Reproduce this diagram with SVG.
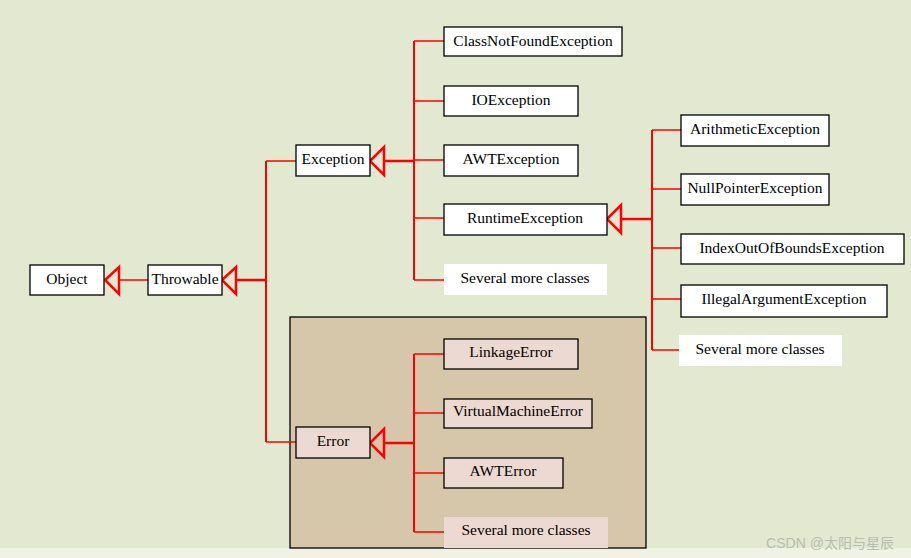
<svg xmlns="http://www.w3.org/2000/svg" width="911" height="558" viewBox="0 0 911 558">
<style>
.b{fill:#fff;stroke:#000;stroke-width:1.3}
.e{fill:#ecd9d1;stroke:#000;stroke-width:1.3}
.n{stroke:none}
text{font-family:"Liberation Serif",serif;font-size:15.5px;fill:#000;text-anchor:middle}
.t{fill:none;stroke:#f00;stroke-width:2.5}
.l{fill:none;stroke:#f00;stroke-width:1.5}
.v{fill:none;stroke:#f00;stroke-width:2}
</style>
<rect width="911" height="558" fill="#e3e9d0"/>
<rect y="548" width="911" height="10" fill="#f0f3e4"/>
<rect x="290" y="317" width="356" height="231" fill="#d6c6aa" stroke="#000" stroke-width="1.3"/>
<g id="connectors">
<polygon class="t" points="105,280 119,267 119,294"/><line class="l" x1="119" y1="280" x2="148" y2="280"/>
<polygon class="t" points="222,280 236,267 236,294"/><line class="t" x1="236" y1="280" x2="266" y2="280"/>
<line class="v" x1="266" y1="161" x2="266" y2="442"/>
<line class="l" x1="266" y1="161" x2="296" y2="161"/><line class="l" x1="266" y1="442" x2="296" y2="442"/>
<polygon class="t" points="370,161 384,147 384,175"/><line class="t" x1="384" y1="161" x2="414" y2="161"/>
<line class="v" x1="414" y1="41" x2="414" y2="280"/>
<path class="l" d="M414 41H444M414 101H444M414 160H444M414 218H444M414 280H444"/>
<polygon class="t" points="607,219 621,205 621,233"/><line class="t" x1="621" y1="219" x2="652" y2="219"/>
<line class="v" x1="652" y1="130" x2="652" y2="350"/>
<path class="l" d="M652 130H681M652 189H681M652 248H681M652 299H681M652 350H681"/>
<polygon class="t" points="370,443 384,429 384,457"/><line class="t" x1="384" y1="443" x2="414" y2="443"/>
<line class="v" x1="414" y1="354" x2="414" y2="532"/>
<path class="l" d="M414 354H444M414 413H444M414 473H444M414 532H444"/>
</g>
<g id="object"><rect class="b" x="30" y="265" width="74" height="30"/><text x="67" y="284">Object</text></g>
<g id="throwable"><rect class="b" x="148" y="265" width="74" height="30"/><text x="185" y="284">Throwable</text></g>
<g id="exception"><rect class="b" x="296" y="145" width="74" height="31"/><text x="333" y="164">Exception</text></g>
<g id="cnfe"><rect class="b" x="444" y="27" width="178" height="29"/><text x="533" y="46">ClassNotFoundException</text></g>
<g id="ioe"><rect class="b" x="444" y="86" width="134" height="30"/><text x="511" y="105">IOException</text></g>
<g id="awte"><rect class="b" x="444" y="145" width="134" height="31"/><text x="511" y="164">AWTException</text></g>
<g id="rte"><rect class="b" x="444" y="204" width="163" height="31"/><text x="525" y="223">RuntimeException</text></g>
<g id="more1"><rect class="b n" x="444" y="264" width="163" height="31"/><text x="525" y="283">Several more classes</text></g>
<g id="arith"><rect class="b" x="681" y="115" width="148" height="31"/><text x="755" y="134">ArithmeticException</text></g>
<g id="npe"><rect class="b" x="681" y="174" width="148" height="31"/><text x="755" y="193">NullPointerException</text></g>
<g id="ioob"><rect class="b" x="681" y="234" width="223" height="30"/><text x="792" y="253">IndexOutOfBoundsException</text></g>
<g id="iae"><rect class="b" x="681" y="285" width="206" height="32"/><text x="784" y="304">IllegalArgumentException</text></g>
<g id="more2"><rect class="b n" x="679" y="335" width="163" height="31"/><text x="760" y="354">Several more classes</text></g>
<g id="error"><rect class="e" x="296" y="427" width="74" height="31"/><text x="333" y="446">Error</text></g>
<g id="link"><rect class="e" x="444" y="339" width="134" height="30"/><text x="511" y="357">LinkageError</text></g>
<g id="vme"><rect class="e" x="444" y="399" width="148" height="29"/><text x="518" y="416">VirtualMachineError</text></g>
<g id="awterr"><rect class="e" x="444" y="458" width="119" height="30"/><text x="503" y="476">AWTError</text></g>
<g id="more3"><rect class="e n" x="444" y="517" width="164" height="31"/><text x="526" y="535">Several more classes</text></g>
<text x="830" y="548" style="font-family:'Liberation Sans','Noto Sans CJK SC',sans-serif;font-size:14px;fill:#b8bcb0">CSDN @太阳与星辰</text>
</svg>
